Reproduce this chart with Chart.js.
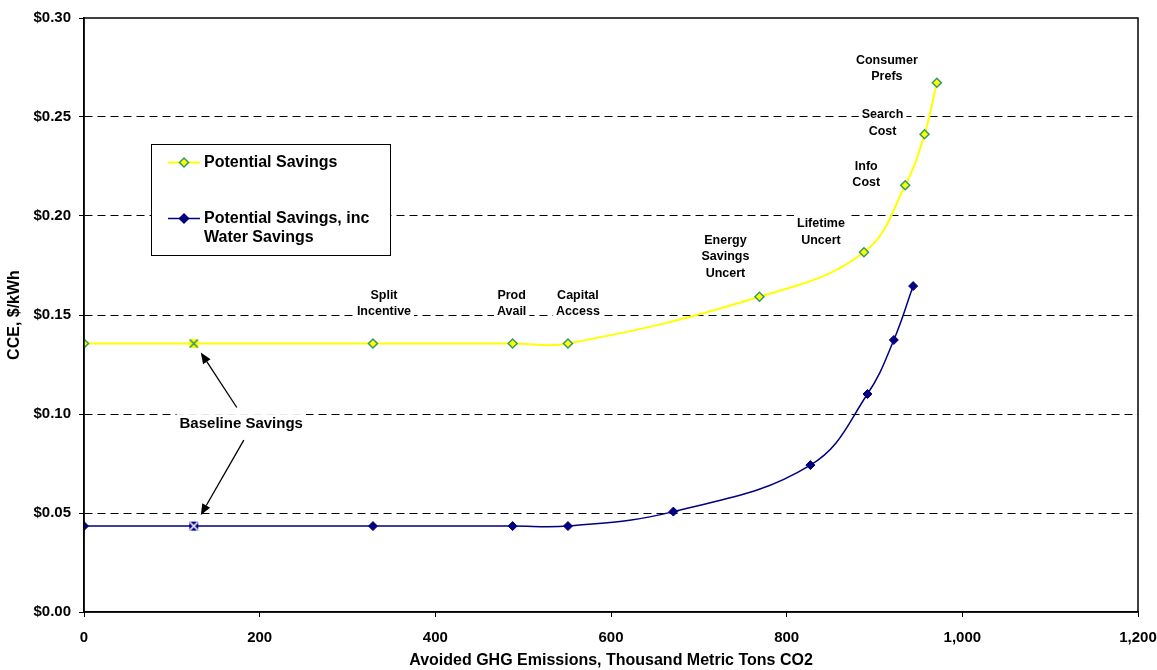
<!DOCTYPE html>
<html lang="en">
<head>
  <meta charset="UTF-8">
  <title>CCE vs Avoided GHG Emissions</title>
  <script src="https://cdn.jsdelivr.net/npm/chart.js"></script>
  <style>
    html, body {
      margin: 0;
      padding: 0;
      background: #fff;
      overflow: hidden;
    }
    #wrap {
      width: 1157px;
      height: 670px;
    }
  </style>
</head>
<body>
<div id="wrap"><canvas id="cceChart"></canvas></div>

<script>
  // avoided emissions (thousand metric tons CO2) / cost of conserved energy ($/kWh)
  const potentialX = [0, 125, 329, 488, 551, 769, 888, 935, 957, 971];
  const potentialY = [0.1356, 0.1356, 0.1356, 0.1356, 0.1356, 0.1592, 0.1817, 0.2155, 0.2413, 0.2673];
  const waterX = [0, 125, 329, 488, 551, 671, 827, 892, 922, 944];
  const waterY = [0.0434, 0.0434, 0.0434, 0.0434, 0.0434, 0.0507, 0.0742, 0.1101, 0.1374, 0.1646];
  const xTicks = [0, 200, 400, 600, 800, 1000, 1200];
  const yTicks = [0, 0.05, 0.10, 0.15, 0.20, 0.25, 0.30];
  const seriesNames = ['Potential Savings', 'Potential Savings, inc Water Savings'];
  const barrierNames = ['', '', 'Split\nIncentive', 'Prod\nAvail', 'Capital\nAccess', 'Energy\nSavings\nUncert',
    'Lifetime\nUncert', 'Info\nCost', 'Search\nCost', 'Consumer\nPrefs'];
  const baselineIndex = 1;

  const FONT = '"Liberation Sans", Arial, sans-serif';
  const YELLOW = '#ffff00';
  const GREEN = '#339966';
  const NAVY = '#000080';

  // offsets of the barrier labels from their points (px)
  const labelOffsets = [null, null, [11, -40], [-1, -40], [10, -40], [-34, -40], [-43, -20], [-39, -11], [-42, -11], [-50, -14]];

  // the baseline point is drawn as a square with a cross
  function crossMarker(fill, cross) {
    const c = document.createElement('canvas');
    c.width = 11;
    c.height = 11;
    const g = c.getContext('2d');
    g.fillStyle = fill;
    g.fillRect(1, 1, 9, 9);
    g.strokeStyle = cross;
    g.lineWidth = 1.7;
    g.beginPath();
    g.moveTo(1.5, 1.5); g.lineTo(9.5, 9.5);
    g.moveTo(9.5, 1.5); g.lineTo(1.5, 9.5);
    g.stroke();
    return c;
  }
  const potentialStyles = potentialX.map((v, i) => i === baselineIndex ? crossMarker(YELLOW, GREEN) : 'rectRot');
  const waterStyles = waterX.map((v, i) => i === baselineIndex ? crossMarker(NAVY, '#ffffff') : 'rectRot');

  function drawArrow(ctx, x1, y1, x2, y2) {
    const ang = Math.atan2(y2 - y1, x2 - x1);
    const len = 11, wid = 4.5;
    const bx = x2 - Math.cos(ang) * len, by = y2 - Math.sin(ang) * len;
    ctx.beginPath();
    ctx.moveTo(x1, y1);
    ctx.lineTo(bx, by);
    ctx.stroke();
    ctx.beginPath();
    ctx.moveTo(x2, y2);
    ctx.lineTo(bx + Math.sin(ang) * wid, by - Math.cos(ang) * wid);
    ctx.lineTo(bx - Math.sin(ang) * wid, by + Math.cos(ang) * wid);
    ctx.closePath();
    ctx.fill();
  }

  function textBlock(ctx, text, cx, cy, size, lineH) {
    const lines = text.split('\n');
    ctx.font = 'bold ' + size + 'px ' + FONT;
    ctx.textAlign = 'center';
    ctx.textBaseline = 'middle';
    const w = Math.max(...lines.map(l => ctx.measureText(l).width));
    const top = cy - lines.length * lineH / 2;
    ctx.fillStyle = '#fff';
    ctx.fillRect(cx - w / 2 - 3, top - 1, w + 6, lines.length * lineH + 2);
    ctx.fillStyle = '#000';
    lines.forEach((l, i) => ctx.fillText(l, cx, top + lineH * (i + 0.5)));
  }

  const overlay = {
    id: 'overlay',
    beforeDraw(chart) {
      const ctx = chart.ctx;
      ctx.save();
      ctx.fillStyle = '#fff';
      ctx.fillRect(0, 0, chart.width, chart.height);
      ctx.restore();
    },
    beforeDatasetsDraw(chart) {
      const {ctx, scales: {x, y}} = chart;
      const pts = chart.getDatasetMeta(0).data;
      ctx.save();
      barrierNames.forEach((name, i) => {
        if (!name) return;
        const off = labelOffsets[i];
        textBlock(ctx, name, pts[i].x + off[0], pts[i].y + off[1], 12.5, 16.5);
      });
      textBlock(ctx, 'Baseline Savings', x.getPixelForValue(179), y.getPixelForValue(0.0949), 15, 18);
      ctx.restore();
    },
    afterDatasetsDraw(chart) {
      const {ctx, chartArea: a} = chart;
      const p0 = chart.getDatasetMeta(0).data[baselineIndex];
      const p1 = chart.getDatasetMeta(1).data[baselineIndex];
      ctx.save();
      ctx.strokeStyle = '#000';
      ctx.lineWidth = 1.5;
      ctx.strokeRect(a.left, a.top, a.right - a.left, a.bottom - a.top);
      ctx.fillStyle = '#000';
      ctx.lineWidth = 1.3;
      drawArrow(ctx, p0.x + 43, p0.y + 64, p0.x + 7, p0.y + 9);
      drawArrow(ctx, p1.x + 50, p1.y - 86, p1.x + 7, p1.y - 11);
      ctx.restore();
    },
    afterDraw(chart) {
      // legend box
      const ctx = chart.ctx;
      const bx = 151, by = 144, bw = 239, bh = 111;
      ctx.save();
      ctx.fillStyle = '#fff';
      ctx.fillRect(bx, by, bw, bh);
      ctx.strokeStyle = '#000';
      ctx.lineWidth = 1;
      ctx.strokeRect(bx + 0.5, by + 0.5, bw, bh);
      const rows = [
        {y: 162.5, line: YELLOW, fill: YELLOW, border: GREEN, lw: 2, text: [seriesNames[0]]},
        {y: 218.5, line: NAVY, fill: NAVY, border: NAVY, lw: 1.5, text: ['Potential Savings, inc', 'Water Savings']}
      ];
      rows.forEach(r => {
        ctx.strokeStyle = r.line;
        ctx.lineWidth = r.lw;
        ctx.beginPath();
        ctx.moveTo(168, r.y);
        ctx.lineTo(200, r.y);
        ctx.stroke();
        ctx.beginPath();
        ctx.moveTo(184, r.y - 4.5);
        ctx.lineTo(188.5, r.y);
        ctx.lineTo(184, r.y + 4.5);
        ctx.lineTo(179.5, r.y);
        ctx.closePath();
        ctx.fillStyle = r.fill;
        ctx.fill();
        ctx.strokeStyle = r.border;
        ctx.lineWidth = 1.5;
        ctx.stroke();
        ctx.fillStyle = '#000';
        ctx.font = 'bold 16px ' + FONT;
        ctx.textAlign = 'left';
        ctx.textBaseline = 'middle';
        r.text.forEach((t, i) => ctx.fillText(t, 204, r.y + i * 19));
      });
      ctx.restore();
    }
  };

  const ctx = document.getElementById('cceChart').getContext('2d');
  new Chart(ctx, {
    type: 'line',
    data: {
      datasets: [
        {
          label: seriesNames[0],
          data: potentialX.map((v, i) => ({x: v, y: potentialY[i]})),
          borderColor: YELLOW,
          borderWidth: 2,
          backgroundColor: YELLOW,
          pointBackgroundColor: YELLOW,
          pointBorderColor: GREEN,
          pointBorderWidth: 1.5,
          pointRadius: 4.5,
          pointStyle: potentialStyles,
          tension: 0.4
        },
        {
          label: seriesNames[1],
          data: waterX.map((v, i) => ({x: v, y: waterY[i]})),
          borderColor: NAVY,
          borderWidth: 1.5,
          backgroundColor: NAVY,
          pointBackgroundColor: NAVY,
          pointBorderColor: NAVY,
          pointBorderWidth: 1,
          pointRadius: 4.5,
          pointStyle: waterStyles,
          tension: 0.4
        }
      ]
    },
    options: {
      responsive: true,
      maintainAspectRatio: false,
      animation: false,
      layout: {
        padding: {top: 18, right: 19, left: 0, bottom: 0}
      },
      plugins: {
        legend: {display: false},
        tooltip: {enabled: false}
      },
      scales: {
        x: {
          type: 'linear',
          min: 0,
          max: 1200,
          afterBuildTicks: s => { s.ticks = xTicks.map(v => ({value: v})); },
          afterFit: s => { s.height = 58; s.paddingLeft = 0; s.paddingRight = 0; },
          grid: {drawOnChartArea: false, tickLength: 5, tickColor: '#000', tickWidth: 1},
          border: {display: true, color: '#000', width: 1.5},
          ticks: {
            color: '#000',
            padding: 12,
            maxRotation: 0,
            font: {family: FONT, size: 15, weight: 'bold'},
            callback: v => v.toLocaleString('en-US')
          },
          title: {
            display: true,
            text: 'Avoided GHG Emissions, Thousand Metric Tons CO2',
            color: '#000',
            padding: {top: 0, bottom: 0},
            font: {family: FONT, size: 16, weight: 'bold'}
          }
        },
        y: {
          min: 0,
          max: 0.3,
          afterBuildTicks: s => { s.ticks = yTicks.map(v => ({value: v})); },
          afterFit: s => { s.width = 84; s.paddingTop = 0; s.paddingBottom = 0; },
          grid: {
            color: c => (c.tick && (c.tick.value === 0 || c.tick.value === 0.3)) ? 'rgba(0,0,0,0)' : '#000',
            lineWidth: 1,
            tickLength: 5,
            tickColor: '#000',
            tickBorderDash: []
          },
          border: {display: true, color: '#000', width: 1.5, dash: [8, 5]},
          ticks: {
            color: '#000',
            padding: 8,
            font: {family: FONT, size: 15, weight: 'bold'},
            callback: v => '$' + Number(v).toFixed(2)
          },
          title: {
            display: true,
            text: 'CCE, $/kWh',
            color: '#000',
            padding: {top: 5, bottom: 0},
            font: {family: FONT, size: 16, weight: 'bold'}
          }
        }
      }
    },
    plugins: [overlay]
  });
</script>
</body>
</html>
